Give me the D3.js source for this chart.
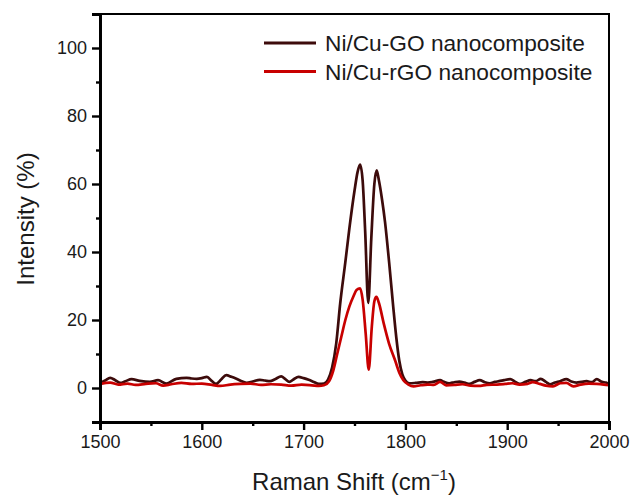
<!DOCTYPE html>
<html><head><meta charset="utf-8">
<script src="https://cdn.jsdelivr.net/npm/d3@7"></script>
<style>body{margin:0;background:#fff}svg{display:block;font-family:"Liberation Sans",Arial,sans-serif}</style>
</head><body><svg id="c" width="633" height="496"></svg>
<script>
// Raman shift (cm-1) and intensity (%) for each series
const goShift = [1500,1505,1510,1515,1520,1525,1531,1539,1549,1557,1565,1575,1585,1590,1595,1600,1605,1610,1614,1619,1624,1629,1634,1640,1644,1650,1657,1662,1667,1672,1678,1682,1686,1690,1695,1700,1705,1710,1715,1720,1724,1728,1732,1736,1741,1745,1750,1753,1755.5,1758,1760.5,1763.5,1766.5,1769.5,1771.8,1774,1777,1780,1784,1788,1791,1794,1797,1800,1804,1810,1817,1822,1827,1834,1838,1843,1848,1853,1858,1863,1868,1873,1878,1883,1888,1892,1897,1903,1908,1913,1918,1923,1928,1933,1938,1942,1947,1952,1958,1963,1968,1973,1978,1983,1988,1993,1997,2000];
const goIntensity = [1.5,2.2,3.0,2.3,1.5,2.0,2.6,2.1,1.8,2.3,1.3,2.7,3.0,2.8,2.7,2.9,3.3,2.0,1.2,2.5,3.8,3.3,2.7,1.9,1.5,1.9,2.4,2.2,2.0,2.6,3.4,2.6,1.8,2.5,3.3,2.9,2.4,1.8,1.2,1.3,2.5,6,13,25,37,47,58,63.5,65.7,61,46,25,44,60,64,61,55.5,48.8,37,24,15,8,4,2.2,1.4,1.5,1.7,1.6,1.8,2.3,1.8,1.4,1.7,1.9,1.6,1.2,1.8,2.3,1.7,1.4,1.8,2.0,2.3,2.6,1.8,1.2,1.8,2.3,2.0,2.7,1.8,1.1,1.6,2.0,2.6,1.9,1.6,1.8,2.0,1.7,2.6,1.8,1.6,1.2];
const rgoShift = [1500,1510,1518,1527,1535,1545,1555,1562,1570,1580,1590,1600,1610,1618,1628,1638,1648,1658,1668,1678,1688,1698,1708,1715,1720,1725,1729,1733,1737,1741,1745,1749,1752,1755.5,1758,1761,1764,1767,1769.5,1771.5,1774,1778.7,1784,1790,1794,1798,1803,1808,1815,1822,1828,1834,1840,1848,1856,1864,1872,1880,1890,1898,1905,1912,1920,1925,1932,1938,1945,1952,1958,1965,1972,1980,1988,1995,2000];
const rgoIntensity = [1.2,1.6,1.0,1.3,0.9,1.2,1.4,0.7,1.1,1.5,1.2,1.3,0.9,0.6,1.0,1.2,1.3,0.9,1.1,1.0,0.7,1.0,0.8,0.6,0.8,2,5,10,15,20,24,27,28.8,29.3,26,16,5.4,18,25.5,26.8,25,19,13,8,4.5,2.3,1,0.5,0.8,1.0,0.9,1.8,0.8,0.9,1.1,0.7,0.6,0.9,1.0,1.2,1.4,1.0,1.2,1.7,1.2,0.7,0.5,1.4,1.5,0.5,1.0,1.3,1.2,1.0,0.8];
const seriesNames = ["Ni/Cu-GO nanocomposite","Ni/Cu-rGO nanocomposite"];
const seriesColors = ["#3d0b0b","#c80000"];
const xTicks = [1500,1600,1700,1800,1900,2000];
const yTicks = [0,20,40,60,80,100];
const xMinor = [1550,1650,1750,1850,1950];
const yMinor = [-10,10,30,50,70,90];

const svg = d3.select("#c");
const L=100,R=609,T=14,B=422;
const x = d3.scaleLinear().domain([1500,2000]).range([L,R]);
const y = d3.scaleLinear().domain([-10,110]).range([B,T]);

const line = d3.line().x(d=>x(d[0])).y(d=>y(d[1])).curve(d3.curveMonotoneX);
const data = [d3.zip(goShift,goIntensity), d3.zip(rgoShift,rgoIntensity)];

svg.append("defs").append("clipPath").attr("id","clip").append("rect").attr("x",L).attr("y",T).attr("width",R-L).attr("height",B-T);
const g = svg.append("g").attr("clip-path","url(#clip)");
g.selectAll("path.s").data(data).join("path").attr("class","s")
  .attr("d",line).attr("fill","none")
  .attr("stroke",(d,i)=>seriesColors[i]).attr("stroke-width",2.7).attr("stroke-linejoin","round");

// frame
svg.append("rect").attr("x",L).attr("y",T).attr("width",R-L).attr("height",B-T)
  .attr("fill","none").attr("stroke","#000").attr("stroke-width",2);

// axes
const xa = svg.append("g").attr("transform",`translate(0,${B})`)
  .call(d3.axisBottom(x).tickValues(xTicks).tickFormat(d3.format("d")).tickSize(8).tickPadding(5));
const xm = svg.append("g").attr("transform",`translate(0,${B})`)
  .call(d3.axisBottom(x).tickValues(xMinor).tickFormat("").tickSize(4));
const ya = svg.append("g").attr("transform",`translate(${L},0)`)
  .call(d3.axisLeft(y).tickValues(yTicks).tickFormat(d3.format("d")).tickSize(8).tickPadding(5));
const ym = svg.append("g").attr("transform",`translate(${L},0)`)
  .call(d3.axisLeft(y).tickValues(yMinor).tickFormat("").tickSize(4));
[xa,xm,ya,ym].forEach(a=>{
  a.select(".domain").attr("stroke","#000").attr("stroke-width",2.8);
  a.selectAll(".tick line").attr("stroke","#000").attr("stroke-width",2.4);
  a.selectAll(".tick text").attr("fill","#1a1a1a").attr("font-size",18).attr("font-family","Liberation Sans, Arial, sans-serif");
});

// axis titles
const xt = svg.append("text").attr("x",354).attr("y",490).attr("text-anchor","middle")
  .attr("font-size",24).attr("fill","#1a1a1a");
xt.append("tspan").text("Raman Shift (cm");
xt.append("tspan").attr("dy",-10).attr("font-size",15).text("\u22121");
xt.append("tspan").attr("dy",10).text(")");
svg.append("text").attr("transform","translate(34,219) rotate(-90)").attr("text-anchor","middle")
  .attr("font-size",24).attr("fill","#1a1a1a").text("Intensity (%)");

// legend
const lg = svg.append("g");
seriesNames.forEach((n,i)=>{
  const yy = 43 + i*28.5;
  lg.append("line").attr("x1",264).attr("x2",316).attr("y1",yy).attr("y2",yy)
    .attr("stroke",seriesColors[i]).attr("stroke-width",3);
  lg.append("text").attr("x",325).attr("y",yy).attr("dy","0.36em").attr("font-size",22.7)
    .attr("fill","#1a1a1a").text(n);
});
</script></body></html>
